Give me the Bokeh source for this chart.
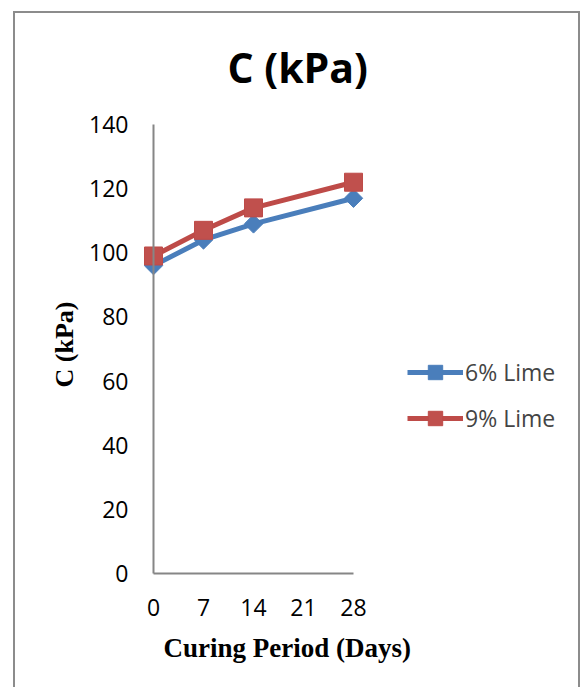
import math
from bokeh.plotting import figure
from bokeh.models import Range1d, FixedTicker, Legend, LegendItem, Title
from bokeh.embed import file_html
from bokeh.resources import INLINE

# Data
days = [0, 7, 14, 28]
lime6 = [96, 104, 109, 117]
lime9 = [99, 107, 114, 122]
x_ticks = [0, 7, 14, 21, 28]
y_ticks = [0, 20, 40, 60, 80, 100, 120, 140]
series_names = ["6% Lime", "9% Lime"]
title_text = "C (kPa)"
x_label = "Curing Period (Days)"
y_label = "C (kPa)"

# canvas placed inside a bordered host
OX, OY = 15, 13
CW, CH = 567, 676
AXIS_LEFT, AXIS_RIGHT = 153, 353   # where x = 0 and x = 28 sit (window px)
AXIS_TOP, AXIS_BOTTOM = 124, 573   # where y = 140 and y = 0 sit
FL, FR = 80, 573                   # frame box, wide enough to hold the tick labels
FT, FB = 110, 629                  # and the legend, so nothing is clipped
xs = x_ticks[-1] - x_ticks[0]
ys = y_ticks[-1] - y_ticks[0]
x_start = -xs * (AXIS_LEFT - FL) / (AXIS_RIGHT - AXIS_LEFT)
x_end = xs * (FR - AXIS_LEFT) / (AXIS_RIGHT - AXIS_LEFT)
y_start = -ys * (FB - AXIS_BOTTOM) / (AXIS_BOTTOM - AXIS_TOP)
y_end = ys + ys * (AXIS_TOP - FT) / (AXIS_BOTTOM - AXIS_TOP)

p = figure(width=CW, height=CH, output_backend="svg", toolbar_location=None,
           x_range=Range1d(x_start, x_end), y_range=Range1d(y_start, y_end),
           min_border_left=FL - OX, min_border_right=OX + CW - FR,
           min_border_top=FT - OY, min_border_bottom=OY + CH - FB)
p.margin = (11, 2, 0, 13)
p.styles = {"border-style": "solid solid none solid", "border-width": "2px",
            "border-color": "#8c8c8c"}
p.outline_line_color = None
p.xgrid.visible = False
p.ygrid.visible = False

for ax in (p.xaxis, p.yaxis):
    ax.axis_line_color = "#868686"
    ax.axis_line_width = 2
    ax.major_tick_line_color = None
    ax.minor_tick_line_color = None
    ax.major_tick_out = 0
    ax.major_tick_in = 0
    ax.major_label_text_font = "Open Sans"
    ax.major_label_text_font_size = "23px"
    ax.major_label_text_color = "#000000"
    ax.major_label_standoff = 25
p.xaxis.ticker = FixedTicker(ticks=x_ticks)
p.xaxis.bounds = (x_ticks[0], x_ticks[-1])
p.xaxis.fixed_location = y_ticks[0]
p.yaxis.ticker = FixedTicker(ticks=y_ticks)
p.yaxis.bounds = (y_ticks[0], y_ticks[-1])
p.yaxis.fixed_location = x_ticks[0]

blue = "#4a7ebb"
red = "#be4b48"

l1 = p.line(days, lime6, line_color=blue, line_width=5)
m1 = p.scatter(days, lime6, marker="square", angle=math.pi / 4, size=13,
               fill_color=blue, line_color=blue)
l2 = p.line(days, lime9, line_color=red, line_width=5)
m2 = p.scatter(days, lime9, marker="square", size=18,
               fill_color="#c0504d", line_color=red)

legend = Legend(items=[LegendItem(label=series_names[0], renderers=[l1, m1]),
                       LegendItem(label=series_names[1], renderers=[l2, m2])],
                location=(407 - FL, FB - 436), orientation="vertical",
                background_fill_alpha=0, border_line_color=None,
                label_text_font="Open Sans", label_text_font_size="23px",
                glyph_width=56, glyph_height=36, label_standoff=2,
                spacing=10, padding=0, margin=0)
p.add_layout(legend, "center")

p.title = Title(text=title_text, align="left", vertical_align="middle",
                offset=74 + AXIS_LEFT - FL, standoff=30,
                text_font="Open Sans", text_font_style="bold",
                text_font_size="41px", text_color="#000000")
p.add_layout(Title(text=x_label, align="left", vertical_align="middle",
                   offset=10 + AXIS_LEFT - FL, standoff=4,
                   text_font="Liberation Serif", text_font_style="bold",
                   text_font_size="27px", text_color="#000000"), "below")
p.add_layout(Title(text=y_label, align="left", offset=FB - 387, standoff=4,
                   text_font="Liberation Serif", text_font_style="bold",
                   text_font_size="26px", text_color="#000000"), "left")

open("out.html", "w").write(file_html(p, INLINE))
